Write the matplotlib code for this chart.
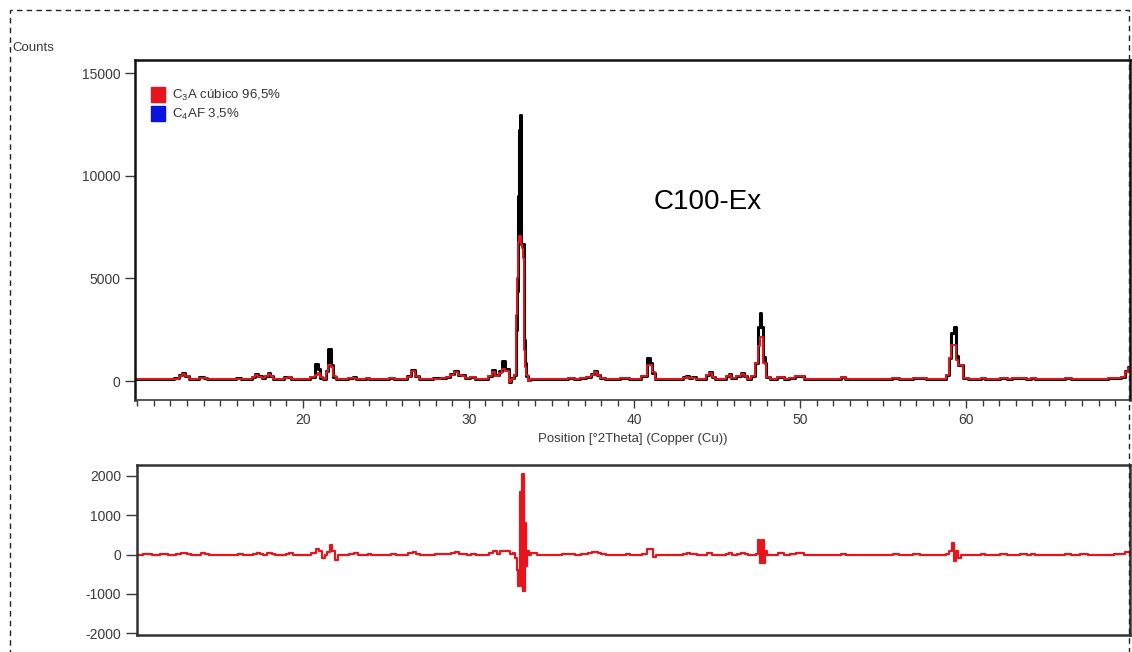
import matplotlib
matplotlib.use("Agg")
import matplotlib.pyplot as plt
from matplotlib.patches import Patch, Rectangle
from matplotlib.ticker import MultipleLocator

plt.rcParams['font.family'] = ['Liberation Sans', 'DejaVu Sans']
plt.rcParams['axes.unicode_minus'] = False

# 2theta positions (deg), observed counts, calculated counts, difference
two_theta = [10.0, 10.5, 11.0, 11.5, 12.0, 12.4, 12.6, 12.8, 13.0, 13.2, 13.6, 13.9,
             14.1, 14.3, 14.8, 15.3, 15.8, 16.1, 16.4, 16.8, 17.0, 17.2, 17.4, 17.6,
             17.8, 17.95, 18.1, 18.3, 18.7, 19.0, 19.15, 19.4, 19.8, 20.2, 20.6, 20.8,
             20.95, 21.1, 21.3, 21.45, 21.6, 21.75, 21.9, 22.1, 22.5, 22.9, 23.1, 23.3,
             23.7, 23.9, 24.1, 24.6, 25.0, 25.4, 25.6, 26.1, 26.4, 26.65, 26.85, 27.1,
             27.6, 28.1, 28.5, 28.7, 29.0, 29.2, 29.45, 29.7, 29.9, 30.2, 30.5, 31.0,
             31.3, 31.5, 31.7, 31.9, 32.1, 32.3, 32.5, 32.65, 32.8, 32.85, 32.9, 32.95,
             33.0, 33.05, 33.1, 33.15, 33.2, 33.25, 33.3, 33.35, 33.4, 33.5, 33.6, 33.8,
             34.3, 34.8, 35.3, 35.8, 36.2, 36.5, 36.9, 37.3, 37.5, 37.65, 37.8, 38.0,
             38.4, 38.9, 39.3, 39.55, 39.8, 40.2, 40.6, 40.85, 41.0, 41.15, 41.3, 41.8,
             42.3, 42.8, 43.0, 43.2, 43.4, 43.6, 43.8, 44.2, 44.4, 44.55, 44.75, 45.0,
             45.4, 45.6, 45.75, 45.95, 46.3, 46.5, 46.7, 46.9, 47.2, 47.35, 47.5, 47.6,
             47.7, 47.8, 47.9, 48.0, 48.3, 48.9, 49.1, 49.6, 49.8, 50.1, 50.3, 50.8,
             51.3, 51.8, 52.3, 52.6, 52.8, 53.3, 53.8, 54.3, 54.8, 55.3, 55.8, 56.1,
             56.6, 57.0, 57.4, 57.8, 58.3, 58.7, 58.9, 59.05, 59.2, 59.3, 59.45, 59.6,
             59.75, 59.9, 60.3, 60.8, 61.0, 61.3, 61.8, 62.3, 62.6, 63.0, 63.5, 63.8,
             64.0, 64.3, 64.8, 65.3, 65.8, 66.2, 66.5, 67.2, 67.5, 68.0, 68.4, 68.7,
             69.2, 69.5, 69.7, 69.85, 70.0]

obs_counts = [110, 100, 90, 100, 100, 130, 300, 390, 250, 110, 100, 210,
              150, 90, 80, 90, 80, 130, 90, 110, 200, 340, 220, 130,
              260, 390, 250, 110, 110, 180, 200, 100, 100, 110, 200, 830,
              600, 150, 120, 500, 1560, 800, 200, 110, 110, 140, 180, 110,
              120, 170, 110, 90, 100, 160, 100, 100, 230, 540, 240, 110,
              110, 130, 170, 200, 350, 490, 300, 280, 150, 200, 100, 110,
              250, 540, 280, 500, 990, 600, -40, 150, 300, 1800, 2500, 4400,
              9000, 12250, 12950, 12950, 6700, 6700, 6700, 2000, 900, 250, 50, 120,
              100, 100, 90, 110, 160, 120, 130, 200, 350, 500, 300, 150,
              100, 100, 130, 170, 110, 100, 250, 1120, 880, 400, 120, 90,
              110, 110, 180, 240, 150, 180, 110, 120, 300, 440, 200, 100,
              110, 250, 340, 150, 250, 390, 250, 110, 250, 880, 2640, 3320,
              2640, 1170, 880, 200, 100, 200, 100, 170, 250, 250, 120, 110,
              90, 100, 110, 200, 110, 100, 120, 100, 110, 90, 150, 100,
              90, 150, 140, 100, 100, 100, 300, 1120, 2340, 2640, 1200, 780,
              780, 150, 100, 100, 150, 100, 90, 150, 100, 150, 160, 100,
              150, 100, 80, 90, 90, 150, 100, 120, 90, 90, 100, 150,
              170, 200, 500, 700, 650]

calc_counts = [100, 100, 100, 100, 95, 120, 250, 330, 220, 110, 100, 170,
               130, 95, 85, 90, 85, 110, 90, 110, 180, 300, 210, 130,
               230, 340, 240, 110, 110, 160, 180, 100, 100, 110, 180, 300,
               400, 180, 120, 450, 780, 700, 260, 110, 100, 130, 160, 110,
               110, 160, 110, 90, 100, 150, 100, 110, 200, 470, 230, 110,
               110, 120, 150, 180, 300, 420, 280, 260, 150, 180, 100, 110,
               220, 450, 260, 400, 570, 500, -60, 120, 300, 1500, 3200, 5000,
               6800, 7050, 7050, 6900, 6700, 6500, 6000, 1500, 700, 300, 20, 110,
               100, 100, 90, 110, 150, 120, 130, 180, 300, 420, 280, 150,
               100, 100, 130, 150, 110, 100, 240, 780, 780, 450, 120, 90,
               110, 110, 160, 210, 150, 170, 110, 120, 270, 400, 200, 100,
               110, 230, 300, 150, 230, 350, 240, 110, 250, 880, 1700, 2150,
               2150, 880, 880, 200, 100, 180, 100, 160, 220, 230, 120, 110,
               90, 100, 110, 180, 110, 100, 120, 100, 110, 90, 140, 100,
               90, 140, 140, 100, 100, 100, 300, 1120, 1760, 1760, 1000, 780,
               780, 150, 100, 100, 140, 100, 90, 140, 100, 150, 150, 100,
               140, 100, 80, 90, 90, 140, 100, 110, 90, 90, 100, 150,
               160, 200, 450, 620, 600]

diff_counts = [0, 10, -10, 10, 0, 10, 40, 50, 20, 0, 0, 30,
               10, -10, 0, 0, 0, 10, 0, 0, 20, 50, 10, 0,
               30, 50, 10, 0, 0, 20, 30, 0, 0, 0, 30, 130,
               100, -80, 0, 60, 230, 100, -130, 0, 0, 10, 30, 0,
               0, 20, 0, 0, 0, 20, 0, -10, 30, 60, 10, 0,
               0, 10, 20, 20, 40, 60, 20, 20, 0, 20, 0, 0,
               30, 90, 20, 90, 100, 80, 20, 50, -100, -400, -780, -790,
               -780, 1580, -790, 2060, -920, 2060, -920, 800, -300, 100, 0, 30,
               0, 0, -10, 10, 20, 0, 10, 40, 60, 60, 30, 10,
               0, 0, 0, 20, 0, 0, 20, 150, 130, -70, 0, 0,
               0, 0, 20, 40, 10, 10, 0, 0, 30, 40, 0, 0,
               0, 20, 40, 0, 20, 40, 10, 0, 0, 20, 380, -220,
               380, -220, 100, 0, 0, 30, 0, 20, 40, 30, 0, 0,
               0, 0, 0, 20, 0, 0, 0, 0, 0, 0, 10, 0,
               0, 10, 0, 0, 0, 0, 20, 100, 290, -170, 100, -80,
               0, 0, 0, 0, 10, 0, 0, 10, 0, 0, 10, 0,
               10, 0, 0, 0, 0, 10, 0, 10, 0, 0, 0, 0,
               10, 10, 70, 70, 50]

x_tick_values = [20, 30, 40, 50, 60]
phase_labels = [r'C$_{\mathregular{3}}$A cúbico 96,5%', r'C$_{\mathregular{4}}$AF 3,5%']
phase_colors = ['#e8141c', '#0a14e0']
sample_name = 'C100-Ex'

W, H = 1132, 652
fig = plt.figure(figsize=(W / 100, H / 100), dpi=100)

ax = fig.add_axes([135 / W, 1 - 400 / H, 995 / W, 340 / H])
axd = fig.add_axes([137 / W, 1 - 635 / H, 993 / W, 170 / H])

ax.plot(two_theta, obs_counts, color='black', lw=2.2, drawstyle='steps-mid')
ax.plot(two_theta, calc_counts, color='#e8141c', lw=1.4, drawstyle='steps-mid')
axd.plot(two_theta, diff_counts, color='#e8141c', lw=1.6, drawstyle='steps-mid')

tick_col = '#3a3a3a'
ax.set_xlim(9.86, 69.9)
ax.set_ylim(-926, 15650)
ax.set_yticks([0, 5000, 10000, 15000])
ax.set_xticks(x_tick_values)
ax.xaxis.set_minor_locator(MultipleLocator(1))
ax.tick_params(axis='both', which='major', direction='out', length=6, width=1,
               labelsize=10, labelcolor=tick_col, color=tick_col)
ax.tick_params(axis='x', which='minor', direction='out', length=4, width=1, color=tick_col)
ax.tick_params(axis='y', which='major', length=7)
ax.set_xlabel('Position [°2Theta] (Copper (Cu))', fontsize=9.5, color=tick_col, labelpad=4)
for side in ['top', 'left', 'right']:
    ax.spines[side].set_linewidth(1.8)
    ax.spines[side].set_color('#111111')
ax.spines['bottom'].set_linewidth(1.2)
ax.spines['bottom'].set_color(tick_col)

axd.set_xlim(9.86, 69.9)
axd.set_ylim(-2050, 2280)
axd.set_yticks([-2000, -1000, 0, 1000, 2000])
axd.set_xticks([])
axd.tick_params(axis='y', direction='out', length=8, width=1, labelsize=10,
                labelcolor=tick_col, color=tick_col)
for side in axd.spines:
    axd.spines[side].set_linewidth(1.8)
    axd.spines[side].set_color('#333333')

handles = [Patch(facecolor=c, edgecolor=c) for c in phase_colors]
ax.legend(handles, phase_labels, loc='upper left', bbox_to_anchor=(0.004, 0.955),
          frameon=False, fontsize=9.5, handlelength=1.1, handleheight=1.3,
          handletextpad=0.5, labelspacing=0.25, labelcolor='#333333')

fig.text(708 / W, 1 - 202 / H, sample_name, fontsize=20, ha='center', va='center')
fig.text(12 / W, 1 - 48 / H, 'Counts', fontsize=9.5, color=tick_col, ha='left', va='center')

# dashed frame round the figure
border = Rectangle((10 / W, -0.05), 1119 / W, 1.05 - 10 / H, transform=fig.transFigure,
                   fill=False, edgecolor='#222222', linestyle=(0, (4, 3)), lw=1.0)
fig.patches.append(border)

fig.savefig('out.png', dpi=100)
